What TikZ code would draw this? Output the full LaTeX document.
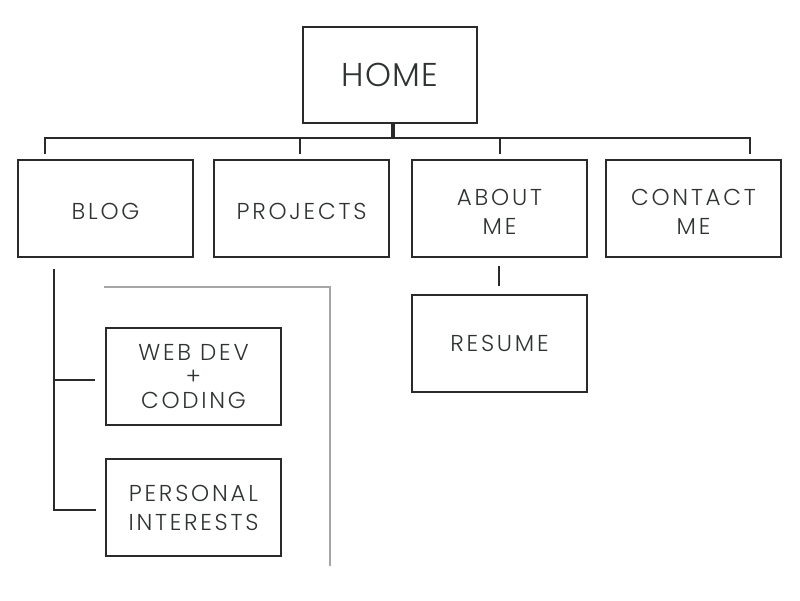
\documentclass[tikz,border=0pt]{standalone}
\usepackage{fontspec}
\setmainfont{Poppins}[LetterSpace=12,UprightFont=* Light]
\newcommand\padtop{\rule{0pt}{22pt}}
\begin{document}
\begin{tikzpicture}[x=1pt,y=-1pt,
  box/.style={draw=boxcol,line width=1.3pt,rectangle,minimum width=175pt,minimum height=97pt,inner sep=0pt,align=center,text=txtcol,font=\fontsize{23}{29}\selectfont},
  conn/.style={draw=boxcol,line width=1.3pt},
  grayline/.style={draw=black!35,line width=1.1pt}]
\definecolor{boxcol}{HTML}{2A2A2A}
\definecolor{txtcol}{HTML}{303333}
\useasboundingbox (0,0) rectangle (800,600);
\fill[white] (0,0) rectangle (800,600);
\node[box,minimum width=174pt,minimum height=96pt,font=\fontsize{33}{40}\selectfont\addfontfeature{LetterSpace=4}] (home) at (390,75) {HOME};
\node[box] (blog) at (105.5,208.5) {\padtop BLOG};
\node[box] (projects) at (301.5,208.5) {\padtop PROJECTS};
\node[box] (about) at (499.5,208.5) {\padtop ABOUT\\ME};
\node[box] (contact) at (693.5,208.5) {\padtop CONTACT\\ME};
\node[box] (resume) at (499.5,343.5) {RESUME};
\node[box,font=\fontsize{23}{24}\selectfont] (webdev) at (193.5,376.5) {WEB DEV\\+\\CODING};
\node[box] (personal) at (193.5,507.5) {PERSONAL\\INTERESTS};
% bus
\coordinate (busL) at (45,138);
\coordinate (busR) at (750,138);
\coordinate (busM) at (392.5,138);
\coordinate (d1) at (45,154);
\coordinate (d2) at (300,154);
\coordinate (d3) at (500,154);
\coordinate (d4) at (750,154);
\draw[draw=boxcol,line width=4pt] (home.south -| busM) -- (busM);
\draw[conn] (d1) -- (busL) -- (busR) -- (d4);
\draw[conn] (d2) -- (d2 |- busL);
\draw[conn] (d3) -- (d3 |- busL);
% about -> resume
\coordinate (r1) at (499,266);
\coordinate (r2) at (499,286);
\draw[conn] (r1) -- (r2);
% blog tree
\coordinate (b1) at (54,269);
\coordinate (b2) at (54,510);
\coordinate (s1) at (95,380);
\coordinate (s2) at (96,510);
\draw[conn] (b1) -- (b2) -- (s2);
\draw[conn] (s1 -| b1) -- (s1);
% gray frame
\coordinate (g1) at (104,287);
\coordinate (g2) at (330,287);
\coordinate (g3) at (330,566);
\draw[grayline] (g1) -- (g2) -- (g3);
\end{tikzpicture}
\end{document}
